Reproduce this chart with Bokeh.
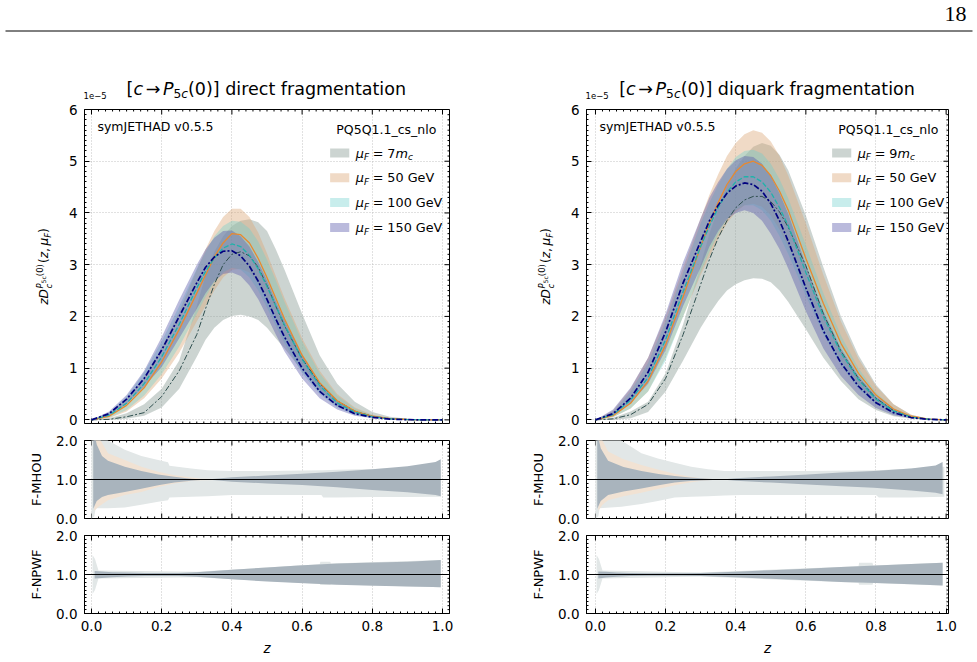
import numpy as np
from bokeh.plotting import figure
from bokeh.models import Range1d, FixedTicker, Label, Span, PrintfTickFormatter
from bokeh.layouts import column, row
from bokeh.embed import file_html
from bokeh.resources import INLINE

# ------------------------------------------------------------------ data
# main panels: z D(z, muF) in units of 1e-5
Z_MAIN = [0.0, 0.05, 0.1, 0.15, 0.2, 0.25, 0.3, 0.325, 0.35, 0.375, 0.4, 0.425, 0.45,
          0.475, 0.5, 0.525, 0.55, 0.6, 0.65, 0.7, 0.75, 0.8, 0.85, 0.9, 0.95, 1.0]

# direct fragmentation
DIR_7MC = [0, 0.01, 0.06, 0.14, 0.45, 0.95, 1.65, 2.15, 2.62, 3.0, 3.2, 3.25, 3.17, 2.95, 2.6, 2.2, 1.82, 1.18, 0.7, 0.37, 0.17, 0.07, 0.025, 0.007, 0.001, 0]
DIR_7MC_LO = [0, 0.0, 0.02, 0.08, 0.24, 0.6, 1.22, 1.55, 1.78, 1.93, 2.01, 2.03, 2.0, 1.93, 1.78, 1.58, 1.38, 0.95, 0.55, 0.27, 0.12, 0.05, 0.015, 0.004, 0.0, 0]
DIR_7MC_HI = [0, 0.03, 0.13, 0.3, 0.6, 1.15, 2.2, 2.8, 3.25, 3.55, 3.75, 3.85, 3.88, 3.82, 3.65, 3.3, 2.9, 2.05, 1.25, 0.7, 0.35, 0.15, 0.06, 0.02, 0.005, 0]
DIR_50 = [0, 0.07, 0.28, 0.62, 1.12, 1.75, 2.45, 2.8, 3.15, 3.42, 3.6, 3.58, 3.42, 3.12, 2.75, 2.35, 1.95, 1.25, 0.72, 0.37, 0.17, 0.07, 0.025, 0.007, 0.001, 0]
DIR_50_LO = [0, 0.03, 0.16, 0.42, 0.8, 1.3, 1.9, 2.2, 2.5, 2.75, 2.9, 2.92, 2.85, 2.65, 2.35, 2.0, 1.65, 1.05, 0.6, 0.3, 0.14, 0.055, 0.02, 0.005, 0.001, 0]
DIR_50_HI = [0, 0.12, 0.4, 0.82, 1.4, 2.1, 2.9, 3.3, 3.65, 3.92, 4.08, 4.08, 3.92, 3.62, 3.22, 2.78, 2.35, 1.58, 0.95, 0.5, 0.24, 0.1, 0.035, 0.01, 0.002, 0]
DIR_100 = [0, 0.09, 0.32, 0.7, 1.22, 1.85, 2.55, 2.87, 3.13, 3.32, 3.4, 3.35, 3.18, 2.92, 2.58, 2.2, 1.83, 1.17, 0.66, 0.33, 0.15, 0.06, 0.02, 0.005, 0.001, 0]
DIR_100_LO = [0, 0.04, 0.19, 0.47, 0.88, 1.42, 2.05, 2.38, 2.66, 2.85, 2.94, 2.9, 2.75, 2.5, 2.17, 1.82, 1.48, 0.9, 0.5, 0.24, 0.1, 0.04, 0.013, 0.003, 0, 0]
DIR_100_HI = [0, 0.14, 0.45, 0.92, 1.52, 2.2, 2.92, 3.25, 3.55, 3.75, 3.85, 3.83, 3.7, 3.45, 3.1, 2.7, 2.28, 1.52, 0.9, 0.47, 0.22, 0.09, 0.03, 0.008, 0.001, 0]
DIR_150 = [0, 0.12, 0.4, 0.8, 1.35, 2.0, 2.65, 2.95, 3.15, 3.26, 3.27, 3.17, 2.97, 2.68, 2.33, 1.95, 1.6, 1.0, 0.55, 0.28, 0.12, 0.05, 0.015, 0.004, 0.0, 0]
DIR_150_LO = [0, 0.08, 0.3, 0.64, 1.02, 1.58, 2.15, 2.45, 2.68, 2.82, 2.85, 2.78, 2.6, 2.33, 2.0, 1.65, 1.32, 0.8, 0.42, 0.2, 0.08, 0.03, 0.01, 0.002, 0, 0]
DIR_150_HI = [0, 0.16, 0.48, 0.95, 1.6, 2.32, 3.0, 3.3, 3.52, 3.65, 3.66, 3.55, 3.35, 3.05, 2.7, 2.3, 1.92, 1.25, 0.72, 0.37, 0.17, 0.07, 0.025, 0.007, 0.001, 0]

# diquark fragmentation
DQ_9MC = [0, 0.02, 0.1, 0.3, 0.8, 1.65, 2.62, 3.1, 3.52, 3.85, 4.1, 4.25, 4.32, 4.32, 4.22, 4.02, 3.72, 2.98, 2.05, 1.33, 0.8, 0.42, 0.18, 0.06, 0.012, 0]
DQ_9MC_LO = [0, 0.0, 0.03, 0.15, 0.55, 1.15, 1.78, 2.05, 2.3, 2.5, 2.62, 2.7, 2.74, 2.73, 2.66, 2.5, 2.28, 1.75, 1.2, 0.75, 0.4, 0.19, 0.07, 0.02, 0.003, 0]
DQ_9MC_HI = [0, 0.04, 0.16, 0.35, 0.9, 1.85, 3.0, 3.6, 4.1, 4.52, 4.86, 5.1, 5.28, 5.35, 5.3, 5.12, 4.82, 3.95, 2.95, 2.0, 1.25, 0.68, 0.3, 0.1, 0.02, 0]
DQ_50 = [0, 0.08, 0.32, 0.75, 1.45, 2.38, 3.35, 3.8, 4.2, 4.55, 4.8, 4.95, 5.0, 4.92, 4.72, 4.42, 4.05, 3.12, 2.25, 1.48, 0.9, 0.48, 0.21, 0.07, 0.015, 0]
DQ_50_LO = [0, 0.05, 0.22, 0.55, 1.2, 2.0, 2.8, 3.15, 3.5, 3.8, 4.02, 4.15, 4.18, 4.12, 3.95, 3.68, 3.35, 2.55, 1.8, 1.15, 0.68, 0.35, 0.15, 0.05, 0.01, 0]
DQ_50_HI = [0, 0.18, 0.6, 1.2, 2.0, 2.95, 3.9, 4.35, 4.75, 5.1, 5.35, 5.52, 5.6, 5.55, 5.38, 5.1, 4.72, 3.8, 2.8, 1.9, 1.18, 0.65, 0.3, 0.1, 0.02, 0]
DQ_100 = [0, 0.1, 0.38, 0.82, 1.55, 2.48, 3.35, 3.75, 4.1, 4.4, 4.6, 4.7, 4.7, 4.6, 4.4, 4.1, 3.75, 2.85, 2.0, 1.3, 0.78, 0.4, 0.17, 0.055, 0.012, 0]
DQ_100_LO = [0, 0.05, 0.22, 0.55, 1.15, 2.0, 2.85, 3.25, 3.6, 3.88, 4.05, 4.15, 4.15, 4.05, 3.85, 3.55, 3.2, 2.4, 1.65, 1.05, 0.6, 0.3, 0.12, 0.04, 0.008, 0]
DQ_100_HI = [0, 0.16, 0.55, 1.1, 1.9, 2.85, 3.8, 4.2, 4.55, 4.85, 5.08, 5.2, 5.22, 5.15, 4.95, 4.65, 4.28, 3.38, 2.45, 1.63, 1.0, 0.53, 0.23, 0.08, 0.015, 0]
DQ_150 = [0, 0.12, 0.42, 0.92, 1.7, 2.65, 3.45, 3.85, 4.15, 4.38, 4.52, 4.58, 4.55, 4.42, 4.18, 3.85, 3.45, 2.55, 1.72, 1.1, 0.65, 0.33, 0.14, 0.045, 0.01, 0]
DQ_150_LO = [0, 0.08, 0.32, 0.7, 1.35, 2.2, 2.95, 3.35, 3.65, 3.88, 4.0, 4.05, 4.0, 3.85, 3.6, 3.3, 2.92, 2.1, 1.38, 0.85, 0.48, 0.23, 0.09, 0.03, 0.006, 0]
DQ_150_HI = [0, 0.2, 0.62, 1.2, 2.05, 3.05, 3.9, 4.3, 4.6, 4.85, 5.02, 5.1, 5.08, 4.95, 4.72, 4.38, 3.98, 3.0, 2.1, 1.38, 0.85, 0.45, 0.2, 0.07, 0.015, 0]

# F-MHOU ratio bands, direct
MH_DIR_LIGHT_Z = [0.0, 0.008, 0.012, 0.047, 0.095, 0.142, 0.19, 0.218, 0.222, 0.284, 0.331, 0.4, 0.5, 0.6, 0.655, 0.66, 0.7, 0.8, 0.9, 0.995]
MH_DIR_LIGHT_HI = [2.5, 2.5, 2.4, 2.0, 1.76, 1.6, 1.5, 1.44, 1.35, 1.28, 1.24, 1.22, 1.22, 1.23, 1.24, 1.24, 1.25, 1.27, 1.29, 1.32]
MH_DIR_LIGHT_LO = [0.0, 0.05, 0.26, 0.26, 0.28, 0.35, 0.43, 0.47, 0.54, 0.56, 0.57, 0.6, 0.6, 0.6, 0.6, 0.54, 0.54, 0.55, 0.55, 0.56]
MH_DIR_PEACH_Z = [0.008, 0.02, 0.047, 0.095, 0.142, 0.19, 0.236, 0.284, 0.31, 0.35]
MH_DIR_PEACH_HI = [2.3, 2.1, 1.67, 1.5, 1.33, 1.2, 1.11, 1.05, 1.02, 1.01]
MH_DIR_PEACH_LO = [0.2, 0.3, 0.47, 0.6, 0.68, 0.81, 0.9, 0.96, 0.98, 0.99]
MH_DIR_DARK_Z = [0.005, 0.015, 0.03, 0.047, 0.095, 0.142, 0.19, 0.236, 0.284, 0.31, 0.33, 0.4, 0.5, 0.6, 0.7, 0.8, 0.9, 0.98, 0.995]
MH_DIR_DARK_HI = [2.3, 1.9, 1.6, 1.48, 1.33, 1.22, 1.13, 1.07, 1.02, 1.005, 1.0, 1.06, 1.1, 1.15, 1.2, 1.26, 1.34, 1.45, 1.52]
MH_DIR_DARK_LO = [0.25, 0.45, 0.55, 0.6, 0.68, 0.76, 0.85, 0.92, 0.97, 0.99, 1.0, 0.94, 0.9, 0.86, 0.8, 0.73, 0.67, 0.6, 0.57]

# F-MHOU ratio bands, diquark
MH_DQ_LIGHT_Z = [0.0, 0.008, 0.012, 0.074, 0.131, 0.178, 0.226, 0.273, 0.321, 0.368, 0.415, 0.6, 0.794, 0.8, 0.808, 0.9, 0.995]
MH_DQ_LIGHT_HI = [2.5, 2.5, 2.4, 2.0, 1.67, 1.54, 1.43, 1.33, 1.26, 1.22, 1.22, 1.22, 1.24, 1.24, 1.24, 1.28, 1.33]
MH_DQ_LIGHT_LO = [0.0, 0.05, 0.26, 0.3, 0.37, 0.45, 0.54, 0.56, 0.57, 0.59, 0.6, 0.6, 0.6, 0.6, 0.54, 0.54, 0.56]
MH_DQ_PEACH_Z = [0.008, 0.02, 0.036, 0.08, 0.131, 0.18, 0.226, 0.27, 0.302, 0.35]
MH_DQ_PEACH_HI = [2.3, 2.0, 1.72, 1.52, 1.37, 1.25, 1.15, 1.07, 1.03, 1.0]
MH_DQ_PEACH_LO = [0.2, 0.35, 0.47, 0.57, 0.66, 0.76, 0.85, 0.92, 0.97, 1.0]
MH_DQ_DARK_Z = [0.005, 0.015, 0.036, 0.08, 0.131, 0.18, 0.226, 0.27, 0.321, 0.36, 0.4, 0.5, 0.605, 0.7, 0.794, 0.9, 0.97, 0.99]
MH_DQ_DARK_HI = [2.2, 1.8, 1.48, 1.32, 1.22, 1.14, 1.09, 1.05, 1.02, 1.0, 1.03, 1.08, 1.13, 1.18, 1.22, 1.28, 1.36, 1.45]
MH_DQ_DARK_LO = [0.25, 0.45, 0.6, 0.69, 0.77, 0.85, 0.92, 0.96, 0.98, 1.0, 0.97, 0.92, 0.87, 0.83, 0.79, 0.72, 0.66, 0.62]

# F-NPWF ratio bands
NP_DIR_LIGHT_Z = [0.003, 0.01, 0.02, 0.3, 0.65, 0.652, 0.68, 0.682, 0.995]
NP_DIR_LIGHT_HI = [1.5, 1.4, 1.1, 1.07, 1.26, 1.33, 1.33, 1.28, 1.37]
NP_DIR_LIGHT_LO = [0.5, 0.6, 0.9, 0.93, 0.76, 0.73, 0.73, 0.75, 0.67]
NP_DIR_DARK_Z = [0.009, 0.03, 0.059, 0.1, 0.153, 0.2, 0.248, 0.3, 0.4, 0.5, 0.589, 0.7, 0.778, 0.9, 0.972, 0.995]
NP_DIR_DARK_HI = [1.09, 1.08, 1.06, 1.05, 1.04, 1.04, 1.04, 1.06, 1.12, 1.18, 1.23, 1.28, 1.3, 1.33, 1.36, 1.37]
NP_DIR_DARK_LO = [0.9, 0.91, 0.93, 0.95, 0.96, 0.96, 0.96, 0.94, 0.88, 0.82, 0.78, 0.74, 0.72, 0.69, 0.68, 0.67]
NP_DQ_LIGHT_Z = [0.003, 0.01, 0.02, 0.3, 0.75, 0.752, 0.79, 0.792, 0.99]
NP_DQ_LIGHT_HI = [1.5, 1.4, 1.1, 1.05, 1.21, 1.3, 1.3, 1.23, 1.3]
NP_DQ_LIGHT_LO = [0.5, 0.6, 0.9, 0.95, 0.79, 0.74, 0.74, 0.78, 0.72]
NP_DQ_DARK_Z = [0.008, 0.03, 0.06, 0.1, 0.15, 0.2, 0.25, 0.3, 0.4, 0.5, 0.6, 0.7, 0.8, 0.9, 0.99]
NP_DQ_DARK_HI = [1.08, 1.07, 1.05, 1.04, 1.03, 1.03, 1.03, 1.04, 1.07, 1.11, 1.15, 1.19, 1.23, 1.27, 1.3]
NP_DQ_DARK_LO = [0.9, 0.92, 0.94, 0.96, 0.97, 0.97, 0.97, 0.96, 0.93, 0.89, 0.85, 0.81, 0.78, 0.75, 0.72]

X_TICKS = [0.0, 0.2, 0.4, 0.6, 0.8, 1.0]
Y_MAIN_TICKS = [0, 1, 2, 3, 4, 5, 6]
Y_RATIO_TICKS = [0.0, 1.0, 2.0]
SCALE_LABELS = ["7", "9"]

# ------------------------------------------------------------------ style
FONT = "DejaVu Sans"
MID = 0.35   # distance baseline -> vertical middle of the text box, in em
CW = {' ': .318, '.': .318, ',': .318, '(': .390, ')': .390, '[': .390, ']': .390, '=': .838,
      '\u2192': .838, '-': .361, '_': .5, '\u2212': .838, '\u03bc': .636,
      'a': .613, 'b': .635, 'c': .550, 'd': .635, 'e': .615, 'f': .352, 'g': .635, 'h': .634,
      'i': .278, 'j': .278, 'k': .579, 'l': .278, 'm': .974, 'n': .634, 'o': .612, 'p': .635,
      'q': .635, 'r': .411, 's': .521, 't': .392, 'u': .634, 'v': .592, 'w': .818, 'x': .592,
      'y': .592, 'z': .525, 'A': .684, 'D': .770, 'E': .632, 'F': .575, 'G': .775, 'H': .752,
      'J': .295, 'M': .863, 'N': .748, 'O': .787, 'P': .603, 'Q': .787, 'T': .611, 'U': .732,
      'V': .684, 'W': .989}
for d in "0123456789":
    CW[d] = .636


def tw(s, size):
    return sum(CW.get(c, 0.6) for c in s) * size


TOP_H = 101
SIDES = {"L": dict(ox=53, w=467, fl=30, fw=366, xr=(-0.0199, 1.0199), lab=(0, 53)),
         "R": dict(ox=555, w=422, fl=30, fw=363, xr=(-0.0256, 1.0068), lab=(520, 555))}
ROWS = {"main": dict(oy=101, h=330, ft=8, fh=314, yr=(-0.07, 6.0)),
        "mhou": dict(oy=431, h=95, ft=9, fh=78, yr=(0.0, 2.0)),
        "npwf": dict(oy=526, h=136, ft=9, fh=78, yr=(0.0, 2.0))}
SHIFT = {"L": 0, "R": 502}


def panel_conv(side, rk):
    s, r = SIDES[side], ROWS[rk]
    x0, x1 = s["xr"]
    y0, y1 = r["yr"]

    def conv(X, Y):
        dx = x0 + (X - s["ox"] - s["fl"]) / s["fw"] * (x1 - x0)
        dy = y1 - (Y - r["oy"] - r["ft"]) / r["fh"] * (y1 - y0)
        return dx, dy
    return conv


def flip(X, Y):
    # text strips use x = window px, y = -(window px)
    return X, -Y


def put(p, conv, X, Y, pieces, angle=0.0, align="left", color="black", font=FONT):
    # pieces: (text, size, italic, shift_down_px, gap_before_px, advance); (X, Y) = baseline start
    total = sum(g + tw(t, sz) for t, sz, it, sh, g, adv in pieces if adv)
    pos = {"left": 0.0, "center": -total / 2.0, "right": -total}[align]
    for t, sz, it, sh, g, adv in pieces:
        dp = pos + g
        if angle == 0:
            PX, PY = X + dp, Y + sh - MID * sz
        else:
            PX, PY = X + sh - MID * sz, Y - dp
        dx, dy = conv(PX, PY)
        p.add_layout(Label(x=dx, y=dy, text=t, angle=angle, text_font=font,
                           text_font_size=f"{sz:.2f}px",
                           text_font_style="italic" if it else "normal",
                           text_color=color, text_align="left", text_baseline="middle"))
        if adv:
            pos = dp + tw(t, sz)


def P(t, sz, it=False, sh=0.0, g=0.0, adv=True):
    return (t, sz, it, sh, g, adv)


def style_axis(ax, ticker, fmt):
    ax.ticker = ticker
    ax.formatter = fmt
    ax.major_tick_in = 5
    ax.major_tick_out = 0
    ax.minor_tick_in = 2
    ax.minor_tick_out = 0
    ax.axis_line_color = "black"
    ax.major_tick_line_color = "black"
    ax.minor_tick_line_color = "black"
    ax.axis_line_width = 1
    ax.major_label_text_font = FONT
    ax.major_label_text_color = "black"
    ax.major_label_text_font_size = "13.5px"
    ax.major_label_standoff = 7


def edge_ticks(p, side, rk, edge, major, minor):
    s, r = SIDES[side], ROWS[rk]
    x0, x1 = s["xr"]
    y0, y1 = r["yr"]
    kx = (x1 - x0) / s["fw"]
    ky = (y1 - y0) / r["fh"]
    for pos, ln in ((major, 5), (minor, 2)):
        pos = list(pos)
        n = len(pos)
        if edge == "top":
            p.segment(x0=pos, x1=pos, y0=[y1] * n, y1=[y1 - ln * ky] * n, line_color="black", line_width=1)
        elif edge == "bottom":
            p.segment(x0=pos, x1=pos, y0=[y0] * n, y1=[y0 + ln * ky] * n, line_color="black", line_width=1)
        else:
            p.segment(x0=[x1] * n, x1=[x1 - ln * kx] * n, y0=pos, y1=pos, line_color="black", line_width=1)


def make_panel(side, rk, xlabels):
    s, r = SIDES[side], ROWS[rk]
    p = figure(width=s["w"], height=r["h"], x_range=Range1d(*s["xr"]), y_range=Range1d(*r["yr"]),
               output_backend="svg", toolbar_location=None, tools="",
               min_border_left=s["fl"], min_border_right=s["w"] - s["fl"] - s["fw"],
               min_border_top=r["ft"], min_border_bottom=r["h"] - r["ft"] - r["fh"],
               outline_line_color="black", outline_line_width=1,
               background_fill_color="white", border_fill_color="white")
    xminor = [round(v, 3) for v in np.arange(0.0, 1.0201, 0.02) if abs(v / 0.2 - round(v / 0.2)) > 1e-6]
    xt = FixedTicker(ticks=X_TICKS, minor_ticks=xminor)
    if rk == "main":
        yminor = [round(v, 2) for v in np.arange(0.0, 6.01, 0.1) if abs(v - round(v)) > 1e-6]
        yt = FixedTicker(ticks=Y_MAIN_TICKS, minor_ticks=yminor)
        yfmt = PrintfTickFormatter(format="%d")
        ymajor = Y_MAIN_TICKS
    else:
        yminor = [round(v, 2) for v in np.arange(0.0, 2.01, 0.1) if abs(v - round(v)) > 1e-6]
        yt = FixedTicker(ticks=Y_RATIO_TICKS, minor_ticks=yminor)
        yfmt = PrintfTickFormatter(format="%.1f")
        ymajor = Y_RATIO_TICKS
    style_axis(p.yaxis[0], yt, yfmt)
    if xlabels:
        style_axis(p.xaxis[0], xt, PrintfTickFormatter(format="%.1f"))
        p.xaxis[0].axis_label = "z"
        p.xaxis[0].axis_label_text_font = FONT
        p.xaxis[0].axis_label_text_font_style = "italic"
        p.xaxis[0].axis_label_text_font_size = "13.5px"
        p.xaxis[0].axis_label_text_color = "black"
        p.xaxis[0].axis_label_standoff = 6
    else:
        p.xaxis.visible = False
        edge_ticks(p, side, rk, "bottom", X_TICKS, xminor)
    edge_ticks(p, side, rk, "top", X_TICKS, xminor)
    edge_ticks(p, side, rk, "right", ymajor, yminor)
    p.xgrid.ticker = xt
    p.xgrid.grid_line_color = "#b4b4b4"
    p.xgrid.grid_line_dash = "1 2"
    p.xgrid.grid_line_width = 0.8
    if rk == "main":
        p.ygrid.ticker = yt
        p.ygrid.grid_line_color = "#b4b4b4"
        p.ygrid.grid_line_dash = "1 2"
        p.ygrid.grid_line_width = 0.8
    else:
        p.ygrid.visible = False
    return p


def text_fig(x0, x1, y0, y1):
    f = figure(width=int(x1 - x0), height=int(y1 - y0), x_range=Range1d(x0, x1), y_range=Range1d(-y1, -y0),
               output_backend="svg", toolbar_location=None, tools="",
               x_axis_type=None, y_axis_type=None, min_border=0,
               outline_line_color=None, background_fill_color="white", border_fill_color="white")
    f.grid.visible = False
    return f


BAND_STYLE = [("#8d9f9a", 0.45), ("#dca878", 0.42), ("#6fd0cc", 0.38), ("#5b5bab", 0.42)]
LINE_STYLE = [("#2f4f4f", 1.0, "6 2 2 2"), ("#e8892e", 1.3, "solid"),
              ("#20b2aa", 1.3, "5 2"), ("#00007f", 1.7, "6 2 2 2")]
RATIO_LIGHT, RATIO_PEACH, RATIO_DARK = "#e2e7e7", "#f1e2d3", "#a9b4bd"

DATA = {
    "L": dict(central=[DIR_7MC, DIR_50, DIR_100, DIR_150],
              lo=[DIR_7MC_LO, DIR_50_LO, DIR_100_LO, DIR_150_LO],
              hi=[DIR_7MC_HI, DIR_50_HI, DIR_100_HI, DIR_150_HI],
              mh=[(MH_DIR_LIGHT_Z, MH_DIR_LIGHT_LO, MH_DIR_LIGHT_HI, RATIO_LIGHT),
                  (MH_DIR_PEACH_Z, MH_DIR_PEACH_LO, MH_DIR_PEACH_HI, RATIO_PEACH),
                  (MH_DIR_DARK_Z, MH_DIR_DARK_LO, MH_DIR_DARK_HI, RATIO_DARK)],
              np_=[(NP_DIR_LIGHT_Z, NP_DIR_LIGHT_LO, NP_DIR_LIGHT_HI, RATIO_LIGHT),
                   (NP_DIR_DARK_Z, NP_DIR_DARK_LO, NP_DIR_DARK_HI, RATIO_DARK)],
              title="direct fragmentation", scale=SCALE_LABELS[0]),
    "R": dict(central=[DQ_9MC, DQ_50, DQ_100, DQ_150],
              lo=[DQ_9MC_LO, DQ_50_LO, DQ_100_LO, DQ_150_LO],
              hi=[DQ_9MC_HI, DQ_50_HI, DQ_100_HI, DQ_150_HI],
              mh=[(MH_DQ_LIGHT_Z, MH_DQ_LIGHT_LO, MH_DQ_LIGHT_HI, RATIO_LIGHT),
                  (MH_DQ_PEACH_Z, MH_DQ_PEACH_LO, MH_DQ_PEACH_HI, RATIO_PEACH),
                  (MH_DQ_DARK_Z, MH_DQ_DARK_LO, MH_DQ_DARK_HI, RATIO_DARK)],
              np_=[(NP_DQ_LIGHT_Z, NP_DQ_LIGHT_LO, NP_DQ_LIGHT_HI, RATIO_LIGHT),
                   (NP_DQ_DARK_Z, NP_DQ_DARK_LO, NP_DQ_DARK_HI, RATIO_DARK)],
              title="diquark fragmentation", scale=SCALE_LABELS[1]),
}

# ---------------------------------------------------------------- top strip (page header + titles)
top = text_fig(0, 977, 0, TOP_H)
top.segment(x0=[5], y0=[-30.5], x1=[972], y1=[-30.5], line_color="black", line_width=1)
put(top, flip, 972, 21, [P("18", 22.0)], align="right", font="Liberation Serif")
T = 17.5
for side in ("L", "R"):
    s = SIDES[side]
    cx = s["ox"] + s["fl"] + s["fw"] / 2.0
    put(top, flip, cx, 94.5, [P("[", T), P("c", T, True), P("\u2192", T, g=0.15 * T),
                              P("P", T, True, g=0.15 * T), P("5", 0.7 * T, sh=3.2),
                              P("c", 0.7 * T, True, sh=3.2), P("(0)]", T),
                              P(DATA[side]["title"], T, g=0.318 * T)], align="center")
    put(top, flip, s["ox"] + s["fl"], 98.3, [P("1e\u22125", 8.5)])


def build_side(side):
    d = DATA[side]
    sx = SHIFT[side]
    s = SIDES[side]

    # ---------------- main panel
    m = make_panel(side, "main", False)
    cm = panel_conv(side, "main")
    for (c, a), lo, hi in zip(BAND_STYLE, d["lo"], d["hi"]):
        m.varea(x=Z_MAIN, y1=lo, y2=hi, fill_color=c, fill_alpha=a)
    for (c, w, dash), y in zip(LINE_STYLE, d["central"]):
        m.line(Z_MAIN, y, line_color=c, line_width=w, line_dash=dash)

    put(m, cm, 96 + sx, 130, [P("symJETHAD v0.5.5", 12.5)])
    put(m, cm, 435.5 + sx, 133, [P("PQ5Q1.1_cs_nlo", 12.5)], align="right")
    L = 12.8
    gap = 0.3 * L
    entries = [[P(d["scale"], L, g=gap), P("m", L, True), P("c", 0.7 * L, True, sh=3.0)],
               [P("50", L, g=gap), P("GeV", L, g=0.318 * L)],
               [P("100", L, g=gap), P("GeV", L, g=0.318 * L)],
               [P("150", L, g=gap), P("GeV", L, g=0.318 * L)]]
    for i, ((c, a), rest) in enumerate(zip(BAND_STYLE, entries)):
        yc = 152.5 + 24.8 * i
        x0, y0 = cm(329.3 + sx, yc - 4.5)
        x1, y1 = cm(348.5 + sx, yc + 4.5)
        m.quad(left=[x0], right=[x1], top=[y0], bottom=[y1], fill_color=c, fill_alpha=a, line_color=None)
        put(m, cm, 355 + sx, yc + 4.5,
            [P("\u03bc", L, True), P("F", 0.7 * L, True, sh=3.0), P("=", L, g=gap)] + rest)

    # ---------------- MHOU
    h = make_panel(side, "mhou", False)
    for zz, lo, hi, c in d["mh"]:
        h.varea(x=zz, y1=lo, y2=hi, fill_color=c, fill_alpha=1.0)
    h.add_layout(Span(location=1.0, dimension="width", line_color="black", line_width=1))

    # ---------------- NPWF
    n = make_panel(side, "npwf", True)
    for zz, lo, hi, c in d["np_"]:
        n.varea(x=zz, y1=lo, y2=hi, fill_color=c, fill_alpha=1.0)
    n.add_layout(Span(location=1.0, dimension="width", line_color="black", line_width=1))

    # ---------------- y labels strip
    lx0, lx1 = s["lab"]
    yl = text_fig(lx0, lx1, TOP_H, 662)
    A = 12.2
    put(yl, flip, 48 + sx, 266,
        [P("z", A, True), P("D", A, True),
         P("c", 0.7 * A, True, sh=3.0, g=0.5, adv=False),
         P("P", 0.7 * A, True, sh=-5.2, g=0.5), P("5c", 0.5 * A, False, sh=-3.2),
         P("(0)", 0.7 * A, False, sh=-5.2),
         P("(", A, g=1.0), P("z", A, True), P(",", A), P("\u03bc", A, True, g=0.2 * A),
         P("F", 0.7 * A, True, sh=2.8), P(")", A)],
        angle=np.pi / 2, align="center")
    put(yl, flip, 41 + sx, 479, [P("F-MHOU", 13.0)], angle=np.pi / 2, align="center")
    put(yl, flip, 41 + sx, 574, [P("F-NPWF", 13.0)], angle=np.pi / 2, align="center")

    return row(yl, column(m, h, n, spacing=0), spacing=0)


layout = column(top, row(build_side("L"), build_side("R"), spacing=0), spacing=0)

open("out.html", "w").write(file_html(layout, INLINE))
